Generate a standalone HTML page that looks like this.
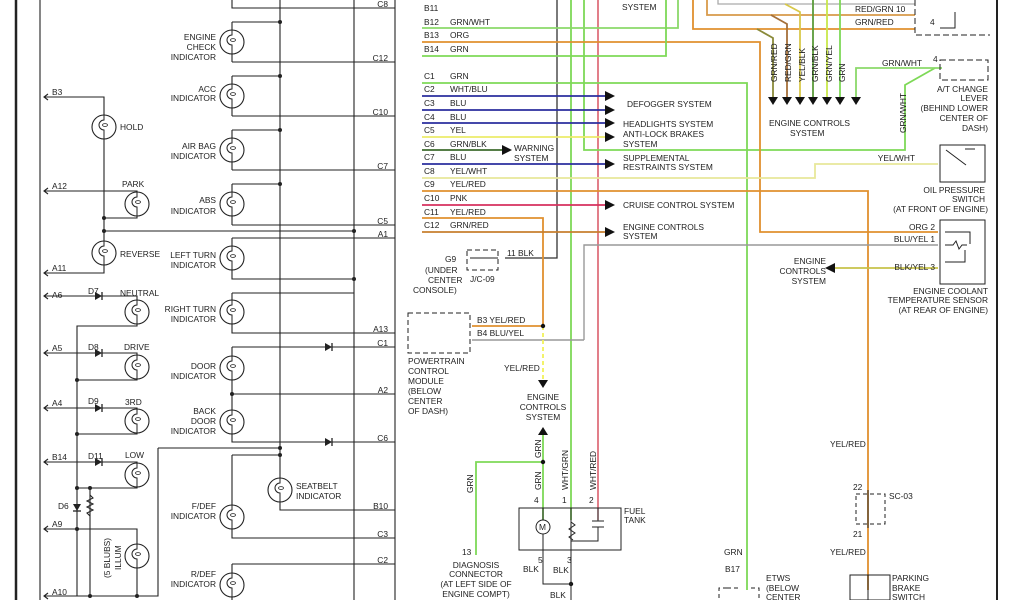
<!DOCTYPE html>
<html><head><meta charset="utf-8"><style>
body{margin:0;background:#fff;width:1024px;height:600px;overflow:hidden}
svg{display:block}
text{font-family:"Liberation Sans",sans-serif;font-size:8.4px;fill:#222}
</style></head><body>
<svg width="1024" height="600" viewBox="0 0 1024 600">
<defs>
<g id="lamp"><circle r="12" fill="#fff" stroke="#222" stroke-width="1.1"/><path d="M0,-12 v5 a5,5 0 0 0 0,10 v9" fill="none" stroke="#222"/><ellipse cx="1" cy="-2" rx="2.5" ry="1.4" fill="none" stroke="#222" stroke-width=".8"/></g>
<g id="diode"><path d="M-4,-4 L3,0 L-4,4Z" fill="#222"/><path d="M3,-4 V4" stroke="#222" stroke-width="1.3"/></g>
<path id="arr" d="M0,-5 L10,0 L0,5Z"/>
</defs>
<g fill="none" stroke="#222" stroke-width="1.1">
<path d="M16,0V600" stroke-width="2.5"/>
<path d="M40,0V600"/><path d="M395,0V600"/><path d="M280,0V490"/><path d="M354,0V600"/>
<path d="M997,0V600" stroke-width="2"/>
<path d="M232,0V8H395M232,22H280M232,62H395M232,76H280M232,116H395M232,130H280M232,170H395M232,184H280M232,225H395M104,231H354M232,238H395M232,238V279H354M232,293H354M232,293V333H395M232,347H395M232,347V442H395M232,394H395M158,448H280M232,455H280M232,455V538H395M280,490V510H395M232,564H395M232,564V600"/>
<path d="M232,22V62M232,76V116M232,130V170M232,184V225"/>
<path d="M44,97H104V273H44M44,191H137V218H104M44,296H137V326H77V596M44,353H137V380H77M44,408H137V434H77M44,462H137V488H77M90,488V596M44,529H137V596M44,596H158V448"/>
<path d="M48,94L44,97L48,100M48,188L44,191L48,194M48,270L44,273L48,276M48,293L44,296L48,299M48,350L44,353L48,356M48,405L44,408L48,411M48,459L44,462L48,465M48,526L44,529L48,532M48,593L44,596L48,599"/>
<path d="M90,495l3,3-6,3 6,3-6,3 6,3-6,3 3,3"/>
</g>
<g fill="#222">
<circle cx="280" cy="22" r="2"/><circle cx="280" cy="76" r="2"/><circle cx="280" cy="130" r="2"/><circle cx="280" cy="184" r="2"/>
<circle cx="104" cy="218" r="2"/><circle cx="104" cy="231" r="2"/><circle cx="354" cy="231" r="2"/><circle cx="354" cy="279" r="2"/>
<circle cx="232" cy="394" r="2"/><circle cx="280" cy="448" r="2"/><circle cx="280" cy="455" r="2"/>
<circle cx="77" cy="380" r="2"/><circle cx="77" cy="434" r="2"/><circle cx="77" cy="488" r="2"/><circle cx="90" cy="488" r="2"/><circle cx="77" cy="529" r="2"/><circle cx="90" cy="596" r="2"/><circle cx="137" cy="596" r="2"/>
</g>
<use href="#lamp" x="232" y="42"/><use href="#lamp" x="232" y="96"/><use href="#lamp" x="232" y="150"/><use href="#lamp" x="232" y="204"/><use href="#lamp" x="232" y="258"/><use href="#lamp" x="232" y="312"/><use href="#lamp" x="232" y="368"/><use href="#lamp" x="232" y="422"/><use href="#lamp" x="232" y="517"/><use href="#lamp" x="232" y="585"/>
<use href="#lamp" x="104" y="127"/><use href="#lamp" x="137" y="204"/><use href="#lamp" x="104" y="253"/><use href="#lamp" x="137" y="312"/><use href="#lamp" x="137" y="367"/><use href="#lamp" x="137" y="421"/><use href="#lamp" x="137" y="475"/><use href="#lamp" x="137" y="556"/><use href="#lamp" x="280" y="490"/>
<use href="#diode" x="99" y="296"/><use href="#diode" x="99" y="353"/><use href="#diode" x="99" y="408"/><use href="#diode" x="99" y="462"/><use href="#diode" x="329" y="347"/><use href="#diode" x="329" y="442"/><use href="#diode" transform="translate(77,508) rotate(90)"/>
<g text-anchor="end">
<text x="216" y="40">ENGINE</text><text x="216" y="50">CHECK</text><text x="216" y="60">INDICATOR</text>
<text x="216" y="92">ACC</text><text x="216" y="101">INDICATOR</text>
<text x="216" y="149">AIR BAG</text><text x="216" y="159">INDICATOR</text>
<text x="216" y="203">ABS</text><text x="216" y="214">INDICATOR</text>
<text x="216" y="258">LEFT TURN</text><text x="216" y="268">INDICATOR</text>
<text x="216" y="312">RIGHT TURN</text><text x="216" y="322">INDICATOR</text>
<text x="216" y="369">DOOR</text><text x="216" y="379">INDICATOR</text>
<text x="216" y="414">BACK</text><text x="216" y="424">DOOR</text><text x="216" y="434">INDICATOR</text>
<text x="216" y="509">F/DEF</text><text x="216" y="519">INDICATOR</text>
<text x="216" y="577">R/DEF</text><text x="216" y="587">INDICATOR</text>
<text x="388" y="7">C8</text><text x="388" y="61">C12</text><text x="388" y="115">C10</text><text x="388" y="169">C7</text><text x="388" y="224">C5</text><text x="388" y="237">A1</text><text x="388" y="332">A13</text><text x="388" y="346">C1</text><text x="388" y="393">A2</text><text x="388" y="441">C6</text><text x="388" y="509">B10</text><text x="388" y="537">C3</text><text x="388" y="563">C2</text>
</g>
<text x="120" y="130">HOLD</text><text x="122" y="187">PARK</text><text x="120" y="257">REVERSE</text><text x="120" y="296">NEUTRAL</text><text x="124" y="350">DRIVE</text><text x="125" y="405">3RD</text><text x="125" y="458">LOW</text>
<text x="88" y="294">D7</text><text x="88" y="350">D8</text><text x="88" y="404">D9</text><text x="88" y="459">D11</text><text x="58" y="509">D6</text>
<text x="296" y="489">SEATBELT</text><text x="296" y="499">INDICATOR</text>
<text x="52" y="95">B3</text><text x="52" y="189">A12</text><text x="52" y="271">A11</text><text x="52" y="298">A6</text><text x="52" y="351">A5</text><text x="52" y="406">A4</text><text x="52" y="460">B14</text><text x="52" y="527">A9</text><text x="52" y="595">A10</text>
<text transform="translate(110,578) rotate(-90)">(5 BLUBS)</text><text transform="translate(121,570) rotate(-90)">ILLUM</text>

<g fill="none" stroke-width="1.8">
<path d="M557,0V258H505" stroke="#333" stroke-width="1.3"/>
<path d="M571,0V520" stroke="#7ed957"/>
<path d="M598,0V520" stroke="#d23a4a" stroke-width="1.3"/>
<path d="M584,0V150H905V85L935,68" stroke="#7ed957"/>
<path d="M422,28H678V0" stroke="#8bd96a"/>
<path d="M422,42H760V232H938" stroke="#e0902f"/>
<path d="M422,56H666V0" stroke="#7ed957"/>
<path d="M422,83H747V590" stroke="#7ed957"/>
<path d="M422,96H612M422,110H612M422,123H612M422,164H612" stroke="#2b2f9e"/>
<path d="M422,137H612" stroke="#ecec6a"/>
<path d="M422,150H505" stroke="#3e6b2e"/>
<path d="M422,178H815V164H938" stroke="#e8e89a"/>
<path d="M422,191H868V590" stroke="#e0902f"/>
<path d="M422,205H612" stroke="#d6305e"/>
<path d="M422,218H543V325" stroke="#e0902f"/>
<path d="M422,232H612" stroke="#c77f2e"/>
<path d="M584,340V245H938" stroke="#999" stroke-width="1.4"/>
<path d="M472,326H543" stroke="#e0902f"/>
<path d="M472,340H584" stroke="#999" stroke-width="1.4"/>
<path d="M543,326V380" stroke="#f2f25a" stroke-dasharray="4,3"/>
<path d="M543,432V520M543,462H476V555" stroke="#7ed957"/>
<path d="M833,268H938" stroke="#c7c24a"/>
<path d="M707,0V15H915" stroke="#d89a4a"/>
<path d="M693,0V29H915" stroke="#e0902f"/>
<path d="M718,0V4H915" stroke="#aaa" stroke-width="1.3"/>
<path d="M757,29L773,38V100" stroke="#8a8a3a"/>
<path d="M771,15L787,24V100" stroke="#a5703a"/>
<path d="M785,4L800,12V100" stroke="#d8c84a"/>
<path d="M813,0V100" stroke="#5b9b3a"/><path d="M827,0V100" stroke="#c9e84a"/><path d="M840,0V100" stroke="#7ed957"/>
<path d="M942,68H856V100" stroke="#8bd96a"/>
</g>
<g fill="#111">
<use href="#arr" x="605" y="96"/><use href="#arr" x="605" y="110"/><use href="#arr" x="605" y="123"/><use href="#arr" x="605" y="137"/><use href="#arr" x="605" y="164"/><use href="#arr" x="605" y="205"/><use href="#arr" x="605" y="232"/><use href="#arr" x="502" y="150"/>
<path d="M768,97h10l-5,8zM782,97h10l-5,8zM795,97h10l-5,8zM808,97h10l-5,8zM822,97h10l-5,8zM835,97h10l-5,8zM851,97h10l-5,8z"/>
<path d="M825,268l10,-5v10z"/>
<path d="M538,380h10l-5,8z"/><path d="M538,435h10l-5,-8z"/>
<circle cx="543" cy="326" r="2.2"/><circle cx="543" cy="462" r="2.2"/><circle cx="571" cy="584" r="2.2"/>
</g>
<g fill="none" stroke="#222" stroke-width="1">
<rect x="408" y="313" width="62" height="40" stroke-dasharray="5,3"/>
<rect x="467" y="250" width="31" height="20" stroke-dasharray="5,3"/>
<path d="M470,258H498"/>
<rect x="519" y="508" width="102" height="42"/>
<circle cx="543" cy="527" r="7"/>
<path d="M543,508v12M543,534v16M571,508v45M571,522l4,3-6,4 6,4-6,4 4,3M598,508v13M592,521h12M592,527h12M598,527v14H571M543,550v34H571M571,550V600"/>
<rect x="940" y="145" width="45" height="37"/>
<path d="M946,150l20,15M965,149h10"/>
<rect x="940" y="220" width="45" height="64"/>
<path d="M945,232h25v12M945,245h8l3,-4 3,8 3,-4h5M965,250v12h-20"/>
<rect x="940" y="60" width="48" height="20" stroke-dasharray="6,3"/>
<path d="M915,0v35h75" stroke-dasharray="6,3"/>
<path d="M955,12V28H940"/>
<rect x="856" y="494" width="29" height="30" stroke-dasharray="4,3"/>
<path d="M868,490v38M868,575V600"/>
<rect x="850" y="575" width="40" height="25"/>
<path d="M727,588h-8V600M727,588h12M751,588h8V600" stroke-dasharray="4,3"/>
</g>
<g>
<text x="539" y="530" font-size="9">M</text>
<text x="424" y="11">B11</text><text x="424" y="25">B12</text><text x="450" y="25">GRN/WHT</text><text x="424" y="38">B13</text><text x="450" y="38">ORG</text><text x="424" y="52">B14</text><text x="450" y="52">GRN</text>
<text x="424" y="79">C1</text><text x="450" y="79">GRN</text>
<text x="424" y="92">C2</text><text x="450" y="92">WHT/BLU</text>
<text x="424" y="106">C3</text><text x="450" y="106">BLU</text>
<text x="424" y="120">C4</text><text x="450" y="120">BLU</text>
<text x="424" y="133">C5</text><text x="450" y="133">YEL</text>
<text x="424" y="147">C6</text><text x="450" y="147">GRN/BLK</text>
<text x="424" y="160">C7</text><text x="450" y="160">BLU</text>
<text x="424" y="174">C8</text><text x="450" y="174">YEL/WHT</text>
<text x="424" y="187">C9</text><text x="450" y="187">YEL/RED</text>
<text x="424" y="201">C10</text><text x="450" y="201">PNK</text>
<text x="424" y="215">C11</text><text x="450" y="215">YEL/RED</text>
<text x="424" y="228">C12</text><text x="450" y="228">GRN/RED</text>
<text x="622" y="10">SYSTEM</text>
<text x="627" y="107">DEFOGGER SYSTEM</text><text x="623" y="127">HEADLIGHTS SYSTEM</text><text x="623" y="137">ANTI-LOCK BRAKES</text><text x="623" y="147">SYSTEM</text>
<text x="514" y="151">WARNING</text><text x="514" y="161">SYSTEM</text>
<text x="623" y="161">SUPPLEMENTAL</text><text x="623" y="170">RESTRAINTS SYSTEM</text>
<text x="623" y="208">CRUISE CONTROL SYSTEM</text>
<text x="623" y="230">ENGINE CONTROLS</text><text x="623" y="239">SYSTEM</text>
<text x="507" y="256">11 BLK</text><text x="445" y="262">G9</text><text x="425" y="273">(UNDER</text><text x="428" y="283">CENTER</text><text x="413" y="293">CONSOLE)</text><text x="470" y="282">J/C-09</text>
<text x="477" y="323">B3 YEL/RED</text><text x="477" y="336">B4 BLU/YEL</text>
<text x="408" y="364">POWERTRAIN</text><text x="408" y="374">CONTROL</text><text x="408" y="384">MODULE</text><text x="408" y="394">(BELOW</text><text x="408" y="404">CENTER</text><text x="408" y="414">OF DASH)</text>
<text x="504" y="371">YEL/RED</text>
<text x="543" y="400" text-anchor="middle">ENGINE</text><text x="543" y="410" text-anchor="middle">CONTROLS</text><text x="543" y="420" text-anchor="middle">SYSTEM</text>
<text x="534" y="503">4</text><text x="562" y="503">1</text><text x="589" y="503">2</text><text x="624" y="514">FUEL</text><text x="624" y="523">TANK</text>
<text x="538" y="563">5</text><text x="567" y="563">3</text><text x="523" y="572">BLK</text><text x="553" y="573">BLK</text><text x="550" y="598">BLK</text>
<text x="462" y="555">13</text><text x="476" y="568" text-anchor="middle">DIAGNOSIS</text><text x="476" y="577" text-anchor="middle">CONNECTOR</text><text x="476" y="587" text-anchor="middle">(AT LEFT SIDE OF</text><text x="476" y="597" text-anchor="middle">ENGINE COMPT)</text>
<text transform="translate(473,493) rotate(-90)">GRN</text><text transform="translate(541,458) rotate(-90)">GRN</text><text transform="translate(541,490) rotate(-90)">GRN</text><text transform="translate(568,490) rotate(-90)">WHT/GRN</text><text transform="translate(596,490) rotate(-90)">WHT/RED</text>
<text x="724" y="555">GRN</text><text x="725" y="572">B17</text><text x="766" y="581">ETWS</text><text x="766" y="591">(BELOW</text><text x="766" y="600">CENTER</text>
<text x="830" y="447">YEL/RED</text><text x="830" y="555">YEL/RED</text><text x="853" y="490">22</text><text x="853" y="537">21</text><text x="889" y="499">SC-03</text>
<text x="892" y="581">PARKING</text><text x="892" y="591">BRAKE</text><text x="892" y="600">SWITCH</text>
<text x="855" y="12">RED/GRN 10</text><text x="855" y="25">GRN/RED</text><text x="930" y="25">4</text>
<text transform="translate(777,82) rotate(-90)">GRN/RED</text><text transform="translate(791,82) rotate(-90)">RED/GRN</text><text transform="translate(805,82) rotate(-90)">YEL/BLK</text><text transform="translate(818,82) rotate(-90)">GRN/BLK</text><text transform="translate(832,82) rotate(-90)">GRN/YEL</text><text transform="translate(845,82) rotate(-90)">GRN</text><text transform="translate(906,133) rotate(-90)">GRN/WHT</text>
<text x="769" y="126">ENGINE CONTROLS</text><text x="790" y="136">SYSTEM</text>
<text x="882" y="66">GRN/WHT</text><text x="933" y="62">4</text>
<g text-anchor="end"><text x="988" y="92">A/T CHANGE</text><text x="988" y="101">LEVER</text><text x="988" y="111">(BEHIND LOWER</text><text x="988" y="121">CENTER OF</text><text x="988" y="131">DASH)</text>
<text x="915" y="161">YEL/WHT</text>
<text x="985" y="193">OIL PRESSURE</text><text x="985" y="202">SWITCH</text><text x="988" y="212">(AT FRONT OF ENGINE)</text>
<text x="935" y="230">ORG 2</text><text x="935" y="242">BLU/YEL 1</text><text x="935" y="270">BLK/YEL 3</text>
<text x="826" y="264">ENGINE</text><text x="826" y="274">CONTROLS</text><text x="826" y="284">SYSTEM</text>
<text x="988" y="294">ENGINE COOLANT</text><text x="988" y="303">TEMPERATURE SENSOR</text><text x="988" y="313">(AT REAR OF ENGINE)</text></g>
</g>
</svg>
</body></html>
